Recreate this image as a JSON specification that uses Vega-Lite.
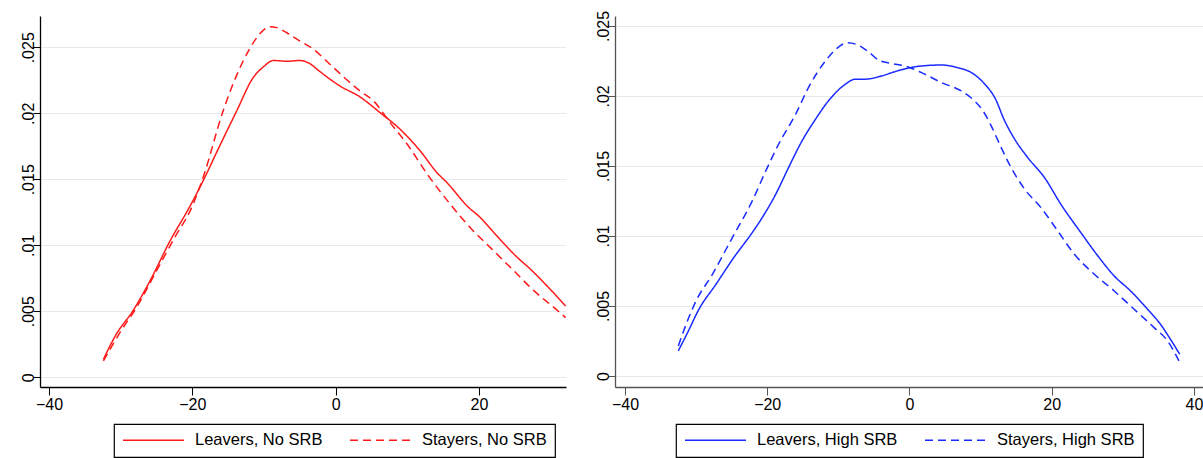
{
  "$schema": "https://vega.github.io/schema/vega-lite/v6.json",
  "background": "white",
  "padding": {"left": 0, "top": 10, "right": 0, "bottom": 0},
  "config": {
    "view": {"stroke": null},
    "font": "Liberation Sans",
    "concat": {"spacing": 16},
    "axis": {
      "title": null,
      "domainColor": "#000000",
      "domainWidth": 1.3,
      "tickColor": "#000000",
      "tickWidth": 1,
      "tickSize": 8,
      "labelFont": "Liberation Sans",
      "labelFontSize": 16,
      "labelColor": "#000000",
      "labelFlush": false,
      "gridColor": "#e3ebee",
      "gridWidth": 1
    },
    "axisX": {"grid": false, "labelPadding": 1},
    "axisY": {
      "grid": true,
      "tickSize": 7,
      "labelAngle": -90,
      "labelAlign": "center",
      "labelBaseline": "alphabetic",
      "labelPadding": 0
    },
    "legend": {"strokeWidth": 1.2}
  },
  "datasets": {
    "noSRB": [
      {"x": -32.4, "density": 0.00136, "group": "Leavers, No SRB"},
      {"x": -30.6, "density": 0.00326, "group": "Leavers, No SRB"},
      {"x": -28.3, "density": 0.00502, "group": "Leavers, No SRB"},
      {"x": -25.9, "density": 0.0073, "group": "Leavers, No SRB"},
      {"x": -23.1, "density": 0.01033, "group": "Leavers, No SRB"},
      {"x": -20.3, "density": 0.01298, "group": "Leavers, No SRB"},
      {"x": -18.5, "density": 0.01487, "group": "Leavers, No SRB"},
      {"x": -16.2, "density": 0.0175, "group": "Leavers, No SRB"},
      {"x": -13.8, "density": 0.02018, "group": "Leavers, No SRB"},
      {"x": -11.5, "density": 0.0227, "group": "Leavers, No SRB"},
      {"x": -10.0, "density": 0.02355, "group": "Leavers, No SRB"},
      {"x": -8.7, "density": 0.024, "group": "Leavers, No SRB"},
      {"x": -6.8, "density": 0.02394, "group": "Leavers, No SRB"},
      {"x": -5.0, "density": 0.024, "group": "Leavers, No SRB"},
      {"x": -3.6, "density": 0.02376, "group": "Leavers, No SRB"},
      {"x": -2.4, "density": 0.02325, "group": "Leavers, No SRB"},
      {"x": -1.2, "density": 0.02275, "group": "Leavers, No SRB"},
      {"x": 0.6, "density": 0.02207, "group": "Leavers, No SRB"},
      {"x": 3.4, "density": 0.02124, "group": "Leavers, No SRB"},
      {"x": 6.2, "density": 0.02005, "group": "Leavers, No SRB"},
      {"x": 9.0, "density": 0.01879, "group": "Leavers, No SRB"},
      {"x": 11.8, "density": 0.01715, "group": "Leavers, No SRB"},
      {"x": 14.15, "density": 0.0155, "group": "Leavers, No SRB"},
      {"x": 15.55, "density": 0.01474, "group": "Leavers, No SRB"},
      {"x": 18.35, "density": 0.01298, "group": "Leavers, No SRB"},
      {"x": 20.2, "density": 0.01209, "group": "Leavers, No SRB"},
      {"x": 22.1, "density": 0.01095, "group": "Leavers, No SRB"},
      {"x": 24.9, "density": 0.00932, "group": "Leavers, No SRB"},
      {"x": 27.7, "density": 0.00792, "group": "Leavers, No SRB"},
      {"x": 29.5, "density": 0.00692, "group": "Leavers, No SRB"},
      {"x": 32.1, "density": 0.0054, "group": "Leavers, No SRB"},
      {"x": -32.4, "density": 0.00124, "group": "Stayers, No SRB"},
      {"x": -30.1, "density": 0.00338, "group": "Stayers, No SRB"},
      {"x": -27.8, "density": 0.00527, "group": "Stayers, No SRB"},
      {"x": -25.0, "density": 0.00805, "group": "Stayers, No SRB"},
      {"x": -22.2, "density": 0.01083, "group": "Stayers, No SRB"},
      {"x": -20.3, "density": 0.0126, "group": "Stayers, No SRB"},
      {"x": -18.5, "density": 0.01512, "group": "Stayers, No SRB"},
      {"x": -15.7, "density": 0.02018, "group": "Stayers, No SRB"},
      {"x": -12.9, "density": 0.02396, "group": "Stayers, No SRB"},
      {"x": -11.0, "density": 0.02573, "group": "Stayers, No SRB"},
      {"x": -9.9, "density": 0.02638, "group": "Stayers, No SRB"},
      {"x": -9.1, "density": 0.02656, "group": "Stayers, No SRB"},
      {"x": -8.2, "density": 0.02649, "group": "Stayers, No SRB"},
      {"x": -6.8, "density": 0.0261, "group": "Stayers, No SRB"},
      {"x": -5.4, "density": 0.02561, "group": "Stayers, No SRB"},
      {"x": -3.1, "density": 0.02485, "group": "Stayers, No SRB"},
      {"x": -0.3, "density": 0.02346, "group": "Stayers, No SRB"},
      {"x": 3.4, "density": 0.02169, "group": "Stayers, No SRB"},
      {"x": 5.3, "density": 0.02093, "group": "Stayers, No SRB"},
      {"x": 7.6, "density": 0.01929, "group": "Stayers, No SRB"},
      {"x": 10.0, "density": 0.01765, "group": "Stayers, No SRB"},
      {"x": 12.8, "density": 0.01538, "group": "Stayers, No SRB"},
      {"x": 16.0, "density": 0.01311, "group": "Stayers, No SRB"},
      {"x": 18.8, "density": 0.01133, "group": "Stayers, No SRB"},
      {"x": 21.6, "density": 0.00982, "group": "Stayers, No SRB"},
      {"x": 24.9, "density": 0.00805, "group": "Stayers, No SRB"},
      {"x": 27.7, "density": 0.00654, "group": "Stayers, No SRB"},
      {"x": 30.5, "density": 0.00527, "group": "Stayers, No SRB"},
      {"x": 32.1, "density": 0.00452, "group": "Stayers, No SRB"}
    ],
    "highSRB": [
      {"x": -32.5, "density": 0.00179, "group": "Leavers, High SRB"},
      {"x": -31.2, "density": 0.00309, "group": "Leavers, High SRB"},
      {"x": -29.6, "density": 0.00476, "group": "Leavers, High SRB"},
      {"x": -27.2, "density": 0.00655, "group": "Leavers, High SRB"},
      {"x": -24.7, "density": 0.00845, "group": "Leavers, High SRB"},
      {"x": -22.1, "density": 0.01024, "group": "Leavers, High SRB"},
      {"x": -20.7, "density": 0.01131, "group": "Leavers, High SRB"},
      {"x": -18.8, "density": 0.01298, "group": "Leavers, High SRB"},
      {"x": -17.0, "density": 0.01488, "group": "Leavers, High SRB"},
      {"x": -15.1, "density": 0.01679, "group": "Leavers, High SRB"},
      {"x": -13.2, "density": 0.01834, "group": "Leavers, High SRB"},
      {"x": -11.4, "density": 0.01964, "group": "Leavers, High SRB"},
      {"x": -9.0, "density": 0.02084, "group": "Leavers, High SRB"},
      {"x": -7.6, "density": 0.0212, "group": "Leavers, High SRB"},
      {"x": -6.2, "density": 0.0212, "group": "Leavers, High SRB"},
      {"x": -3.9, "density": 0.02143, "group": "Leavers, High SRB"},
      {"x": -2.0, "density": 0.02174, "group": "Leavers, High SRB"},
      {"x": 0.1, "density": 0.02202, "group": "Leavers, High SRB"},
      {"x": 1.7, "density": 0.02214, "group": "Leavers, High SRB"},
      {"x": 4.5, "density": 0.02221, "group": "Leavers, High SRB"},
      {"x": 6.8, "density": 0.02202, "group": "Leavers, High SRB"},
      {"x": 8.7, "density": 0.02167, "group": "Leavers, High SRB"},
      {"x": 10.6, "density": 0.02084, "group": "Leavers, High SRB"},
      {"x": 12.0, "density": 0.01988, "group": "Leavers, High SRB"},
      {"x": 13.4, "density": 0.01821, "group": "Leavers, High SRB"},
      {"x": 14.8, "density": 0.01691, "group": "Leavers, High SRB"},
      {"x": 16.65, "density": 0.01559, "group": "Leavers, High SRB"},
      {"x": 19.0, "density": 0.01416, "group": "Leavers, High SRB"},
      {"x": 21.3, "density": 0.01226, "group": "Leavers, High SRB"},
      {"x": 24.1, "density": 0.01024, "group": "Leavers, High SRB"},
      {"x": 26.5, "density": 0.00857, "group": "Leavers, High SRB"},
      {"x": 28.8, "density": 0.00714, "group": "Leavers, High SRB"},
      {"x": 31.1, "density": 0.00607, "group": "Leavers, High SRB"},
      {"x": 33.5, "density": 0.00476, "group": "Leavers, High SRB"},
      {"x": 35.3, "density": 0.00369, "group": "Leavers, High SRB"},
      {"x": 36.7, "density": 0.00262, "group": "Leavers, High SRB"},
      {"x": 38.0, "density": 0.00155, "group": "Leavers, High SRB"},
      {"x": -32.5, "density": 0.00214, "group": "Stayers, High SRB"},
      {"x": -31.4, "density": 0.00369, "group": "Stayers, High SRB"},
      {"x": -30.0, "density": 0.00536, "group": "Stayers, High SRB"},
      {"x": -27.7, "density": 0.00726, "group": "Stayers, High SRB"},
      {"x": -24.9, "density": 0.00988, "group": "Stayers, High SRB"},
      {"x": -22.1, "density": 0.0125, "group": "Stayers, High SRB"},
      {"x": -20.2, "density": 0.01464, "group": "Stayers, High SRB"},
      {"x": -18.4, "density": 0.01655, "group": "Stayers, High SRB"},
      {"x": -16.0, "density": 0.01869, "group": "Stayers, High SRB"},
      {"x": -14.2, "density": 0.0206, "group": "Stayers, High SRB"},
      {"x": -11.8, "density": 0.0225, "group": "Stayers, High SRB"},
      {"x": -10.2, "density": 0.0234, "group": "Stayers, High SRB"},
      {"x": -8.7, "density": 0.0238, "group": "Stayers, High SRB"},
      {"x": -7.3, "density": 0.02365, "group": "Stayers, High SRB"},
      {"x": -5.9, "density": 0.02321, "group": "Stayers, High SRB"},
      {"x": -4.3, "density": 0.02255, "group": "Stayers, High SRB"},
      {"x": -2.5, "density": 0.02232, "group": "Stayers, High SRB"},
      {"x": -0.6, "density": 0.02214, "group": "Stayers, High SRB"},
      {"x": 1.7, "density": 0.02167, "group": "Stayers, High SRB"},
      {"x": 4.5, "density": 0.02095, "group": "Stayers, High SRB"},
      {"x": 7.3, "density": 0.02036, "group": "Stayers, High SRB"},
      {"x": 8.9, "density": 0.01976, "group": "Stayers, High SRB"},
      {"x": 10.35, "density": 0.01893, "group": "Stayers, High SRB"},
      {"x": 11.5, "density": 0.01786, "group": "Stayers, High SRB"},
      {"x": 12.9, "density": 0.01631, "group": "Stayers, High SRB"},
      {"x": 14.3, "density": 0.01488, "group": "Stayers, High SRB"},
      {"x": 16.2, "density": 0.01334, "group": "Stayers, High SRB"},
      {"x": 18.5, "density": 0.01202, "group": "Stayers, High SRB"},
      {"x": 20.85, "density": 0.01036, "group": "Stayers, High SRB"},
      {"x": 23.2, "density": 0.00869, "group": "Stayers, High SRB"},
      {"x": 26.0, "density": 0.00726, "group": "Stayers, High SRB"},
      {"x": 28.8, "density": 0.00607, "group": "Stayers, High SRB"},
      {"x": 31.6, "density": 0.00476, "group": "Stayers, High SRB"},
      {"x": 34.4, "density": 0.00345, "group": "Stayers, High SRB"},
      {"x": 36.3, "density": 0.0025, "group": "Stayers, High SRB"},
      {"x": 37.9, "density": 0.00107, "group": "Stayers, High SRB"}
    ]
  },
  "hconcat": [
    {
      "width": 526,
      "height": 371,
      "data": {"name": "noSRB"},
      "mark": {"type": "line", "interpolate": "monotone", "strokeWidth": 1.5},
      "encoding": {
        "x": {
          "field": "x",
          "type": "quantitative",
          "scale": {"domain": [-41.25, 32.15], "nice": false, "zero": false},
          "axis": {"values": [-40, -20, 0, 20]}
        },
        "y": {
          "field": "density",
          "type": "quantitative",
          "scale": {"domain": [-0.00074, 0.02737], "nice": false, "zero": false},
          "axis": {
            "values": [0, 0.005, 0.01, 0.015, 0.02, 0.025],
            "minExtent": 40,
            "maxExtent": 40,
            "labelExpr": "datum.value == 0 ? '0' : substring(format(datum.value, '.3~f'), 1)"
          }
        },
        "color": {
          "field": "group",
          "type": "nominal",
          "scale": {"domain": ["Leavers, No SRB", "Stayers, No SRB"], "range": ["#ff1a1a", "#ff1a1a"]},
          "legend": {
            "orient": "none",
            "legendX": 74,
            "legendY": 408,
            "direction": "horizontal",
            "columns": 2,
            "title": null,
            "strokeColor": "#000000",
            "fillColor": "#ffffff",
            "padding": 8,
            "clipHeight": 16,
            "symbolType": "stroke",
            "symbolSize": 3721,
            "symbolStrokeWidth": 1.5,
            "labelFont": "Liberation Sans",
            "labelFontSize": 16.5,
            "labelColor": "#000000",
            "labelOffset": 10,
            "labelLimit": 400,
            "columnPadding": 26
          }
        },
        "strokeDash": {
          "field": "group",
          "type": "nominal",
          "scale": {"domain": ["Leavers, No SRB", "Stayers, No SRB"], "range": [[1, 0], [8, 5]]}
        }
      }
    },
    {
      "width": 591,
      "height": 371,
      "data": {"name": "highSRB"},
      "mark": {"type": "line", "interpolate": "monotone", "strokeWidth": 1.5},
      "encoding": {
        "x": {
          "field": "x",
          "type": "quantitative",
          "scale": {"domain": [-41.4, 41.7], "nice": false, "zero": false},
          "axis": {"values": [-40, -20, 0, 20, 40], "domainColor": "#555555", "tickColor": "#555555"}
        },
        "y": {
          "field": "density",
          "type": "quantitative",
          "scale": {"domain": [-0.00079, 0.02571], "nice": false, "zero": false},
          "axis": {
            "values": [0, 0.005, 0.01, 0.015, 0.02, 0.025],
            "minExtent": 30,
            "maxExtent": 30,
            "domainColor": "#555555",
            "tickColor": "#555555",
            "labelExpr": "datum.value == 0 ? '0' : substring(format(datum.value, '.3~f'), 1)"
          }
        },
        "color": {
          "field": "group",
          "type": "nominal",
          "scale": {"domain": ["Leavers, High SRB", "Stayers, High SRB"], "range": ["#1a2bff", "#1a2bff"]},
          "legend": {
            "orient": "none",
            "legendX": 61,
            "legendY": 408,
            "direction": "horizontal",
            "columns": 2,
            "title": null,
            "strokeColor": "#000000",
            "fillColor": "#ffffff",
            "padding": 8,
            "clipHeight": 16,
            "symbolType": "stroke",
            "symbolSize": 3721,
            "symbolStrokeWidth": 1.5,
            "labelFont": "Liberation Sans",
            "labelFontSize": 16.5,
            "labelColor": "#000000",
            "labelOffset": 10,
            "labelLimit": 400,
            "columnPadding": 26
          }
        },
        "strokeDash": {
          "field": "group",
          "type": "nominal",
          "scale": {"domain": ["Leavers, High SRB", "Stayers, High SRB"], "range": [[1, 0], [8, 5]]}
        }
      }
    }
  ],
  "resolve": {
    "scale": {"x": "independent", "y": "independent", "color": "independent", "strokeDash": "independent"},
    "legend": {"color": "independent", "strokeDash": "independent"}
  }
}
